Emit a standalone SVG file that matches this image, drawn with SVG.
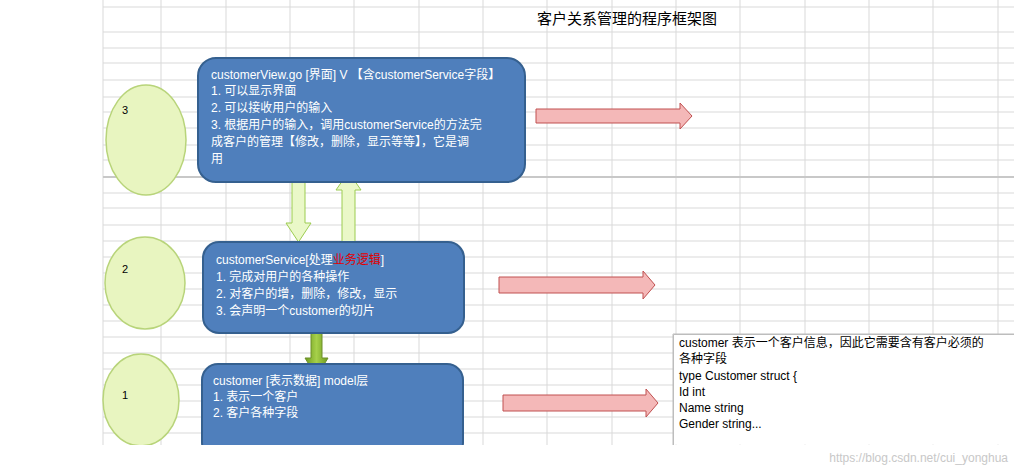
<svg xmlns="http://www.w3.org/2000/svg" width="1014" height="476" viewBox="0 0 1014 476">
<defs>
<style>
.g{stroke:#d9d9d9;stroke-width:1}
.c{fill:#e8f5c0;stroke:#b8d47a;stroke-width:1.5}
.b{fill:#4f7fbc;stroke:#35608f;stroke-width:2}
.t{font-family:"Liberation Sans","Noto Sans CJK SC",sans-serif;font-size:12px;fill:#fff}
.k{font-family:"Liberation Sans","Noto Sans CJK SC",sans-serif;font-size:12px;fill:#000}
.p{fill:#f4b8b8;stroke:#c05050;stroke-width:1}
.lg{fill:#eaf8c8;stroke:#9ccc50;stroke-width:1}
</style>
<linearGradient id="dg" x1="0" x2="1"><stop offset="0" stop-color="#6d9a1e"/><stop offset="0.5" stop-color="#a6d04a"/><stop offset="1" stop-color="#6d9a1e"/></linearGradient>
</defs>
<rect width="1014" height="476" fill="#fff"/>
<g id="grid">
<path class="g" d="M103 0V445M161 0V445M226 0V445M290 0V445M354 0V445M419 0V445M483 0V445M547 0V445M612 0V445M676 0V445M740 0V445M805 0V445M869 0V445M933 0V445M998 0V445"/>
<path class="g" d="M103 7H1014M103 32H1014M103 48H1014M103 63H1014M103 80H1014M103 97H1014M103 112H1014M103 128H1014M103 145H1014M103 160H1014M103 193H1014M103 208H1014M103 225H1014M103 241H1014M103 257H1014M103 273H1014M103 289H1014M103 305H1014M103 321H1014M103 337H1014M103 353H1014M103 369H1014M103 385H1014M103 401H1014M103 417H1014M103 433H1014"/>
<path d="M103 177H1014" stroke="#c8c8c8" stroke-width="2"/>
</g>
<text x="627" y="24" text-anchor="middle" class="k" style="font-size:15px">客户关系管理的程序框架图</text>
<g id="c3"><ellipse class="c" cx="146" cy="140" rx="40" ry="55"/><text x="122" y="114" class="k" style="font-size:11px">3</text></g>
<g id="c2"><ellipse class="c" cx="145" cy="283" rx="40" ry="46"/><text x="122" y="273" class="k" style="font-size:11px">2</text></g>
<g id="c1"><ellipse class="c" cx="141" cy="400" rx="38" ry="46"/><text x="122" y="399" class="k" style="font-size:11px">1</text></g>
<g id="connectors">
<path class="lg" d="M292 175H305V223H311L298.5 242L286 223H292Z"/>
<path class="lg" d="M342 242H355V190H361L348.5 172L336 190H342Z"/>
<path d="M311 318H322V358H328L316.5 377L305 358H311Z" fill="url(#dg)" stroke="#6d8f2a"/>
<path class="p" d="M536 109H680V103L692 116L680 129V123H536Z"/>
<path class="p" d="M499 277H643V271L655 285L643 299V293H499Z"/>
<path class="p" d="M503 395H646V389L658 403L646 417V411H503Z"/>
</g>
<g id="view"><rect class="b" x="198" y="58" width="327" height="124" rx="18"/>
<text class="t" x="211" y="79">customerView.go [界面] V 【含customerService字段】</text>
<text class="t" x="211" y="95">1. 可以显示界面</text>
<text class="t" x="211" y="112">2. 可以接收用户的输入</text>
<text class="t" x="211" y="129">3. 根据用户的输入，调用customerService的方法完</text>
<text class="t" x="211" y="146">成客户的管理【修改，删除，显示等等】，它是调</text>
<text class="t" x="211" y="163">用</text></g>
<g id="service"><rect class="b" x="203" y="242" width="261" height="91" rx="16"/>
<text class="t" x="216" y="264">customerService[处理<tspan fill="#e00000">业务逻辑</tspan>]</text>
<text class="t" x="216" y="281">1. 完成对用户的各种操作</text>
<text class="t" x="216" y="298">2. 对客户的增，删除，修改，显示</text>
<text class="t" x="216" y="315">3. 会声明一个customer的切片</text></g>
<g id="model"><rect class="b" x="202" y="364" width="261" height="95" rx="16"/>
<text class="t" x="213" y="385">customer [表示数据] model层</text>
<text class="t" x="213" y="401">1. 表示一个客户</text>
<text class="t" x="213" y="417">2. 客户各种字段</text></g>
<rect x="0" y="445" width="1014" height="31" fill="#fff"/>
<g id="note"><path d="M673 445V334H1014" fill="#fff" stroke="#bdbdbd"/>
<rect x="673.5" y="334.5" width="341" height="110" fill="#fff"/>
<path d="M673.5 445V334.5H1014" fill="none" stroke="#bdbdbd"/>
<text class="k" x="679" y="347">customer 表示一个客户信息，因此它需要含有客户必须的</text>
<text class="k" x="679" y="363">各种字段</text>
<text class="k" x="679" y="380">type Customer struct {</text>
<text class="k" x="679" y="396">Id int</text>
<text class="k" x="679" y="412">Name string</text>
<text class="k" x="679" y="428">Gender string...</text></g>
<text x="1008" y="462" text-anchor="end" style="font-family:'Liberation Sans',sans-serif;font-size:12px;fill:#c8c8c8">https://blog.csdn.net/cui_yonghua</text>
</svg>
